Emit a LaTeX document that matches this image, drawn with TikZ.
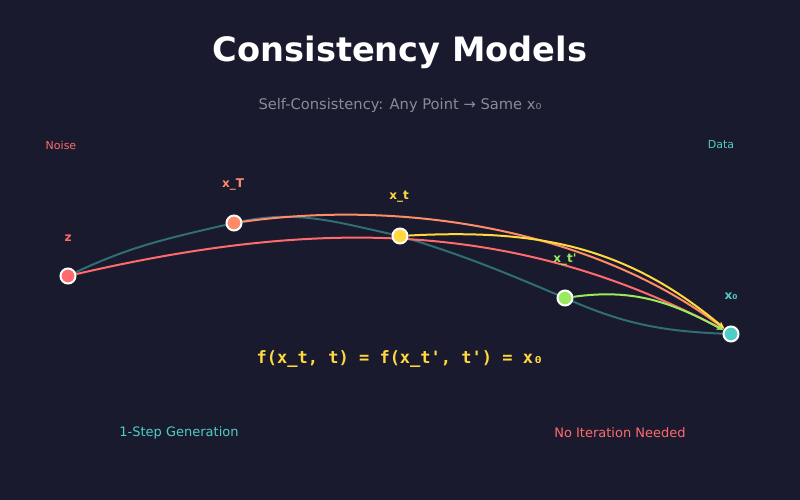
\documentclass[tikz,border=0pt]{standalone}
\usepackage{fontspec}
\setmainfont{DejaVu Sans}
\newfontfamily\monofont{DejaVu Sans Mono}
\usetikzlibrary{arrows.meta,backgrounds}
\definecolor{bg}{HTML}{1A1A2E}
\definecolor{cred}{HTML}{FF6B6B}
\definecolor{corange}{HTML}{FF8C69}
\definecolor{cyellow}{HTML}{FFD93D}
\definecolor{cgreen}{HTML}{9AEA5E}
\definecolor{cteal}{HTML}{4ECDC4}
\definecolor{cdteal}{HTML}{2F6E73}
\definecolor{cgray}{HTML}{8A8A96}
\tikzset{
  pt/.style={circle,draw=white,line width=2pt,minimum size=15pt,inner sep=0pt},
  lbl/.style={font=\fontsize{12}{14}\selectfont\bfseries},
  small/.style={font=\fontsize{11}{13}\selectfont},
  flow/.style={line width=2pt,-{Stealth[length=7pt,width=6pt]}},
}
\begin{document}
\begin{tikzpicture}[x=1pt,y=1pt]
\useasboundingbox (0,0) rectangle (800,500);
% points (y up: 500 - pixel y)
\node[pt,fill=cred] (z) at (68,224) {};
\node[pt,fill=corange] (xT) at (234,277) {};
\node[pt,fill=cyellow] (xt) at (400,264) {};
\node[pt,fill=cgreen] (xtp) at (565,202) {};
\node[pt,fill=cteal] (x0) at (731,166) {};
\begin{pgfonlayer}{background}
\fill[bg] (0,0) rectangle (800,500);
% trajectory
\draw[cdteal,line width=2pt] (z.center) to[out=26,in=193] (xT.center) to[out=13,in=168] (xt.center)
  to[out=-17,in=157] (xtp.center) to[out=-24,in=178] (x0.center);
% consistency maps
\draw[flow,cred] (z) to[out=13,in=152,looseness=0.95] (x0);
\draw[flow,corange] (xT) to[out=8,in=143,looseness=0.85] (x0);
\draw[flow,cyellow] (xt) to[out=3,in=140] (x0);
\draw[flow,cgreen] (xtp) to[out=8,in=152] (x0);
\end{pgfonlayer}
% labels
\node[lbl,text=cred] (lz) at (68,262) {z};
\node[lbl,text=corange] (lxT) at (233,315) {x\_T};
\node[lbl,text=cyellow] (lxt) at (399,303) {x\_t};
\node[lbl,text=cgreen] (lxtp) at (565,240) {x\_t\textquotesingle};
\node[lbl,text=cteal] (lx0) at (731,204) {x₀};
\node[small,text=cred] (noise) at (61,355) {Noise};
\node[small,text=cteal] (data) at (721,355) {Data};
% titles
\node[text=white,font=\fontsize{33.6}{40}\selectfont\bfseries] (title) at (400,448) {Consistency Models};
\node[text=cgray,font=\fontsize{14.7}{18}\selectfont] (sub) at (400,395) {Self-Consistency: Any Point → Same x₀};
\node[text=cyellow,font=\monofont\fontsize{17}{20}\selectfont\bfseries] (eq) at (400,141) {f(x\_t, t) = f(x\_t\textquotesingle, t\textquotesingle) = x₀};
\node[text=cteal,font=\fontsize{13}{16}\selectfont] (one) at (179,67) {1-Step Generation};
\node[text=cred,font=\fontsize{13}{16}\selectfont] (noit) at (620,67) {No Iteration Needed};
\end{tikzpicture}
\end{document}
